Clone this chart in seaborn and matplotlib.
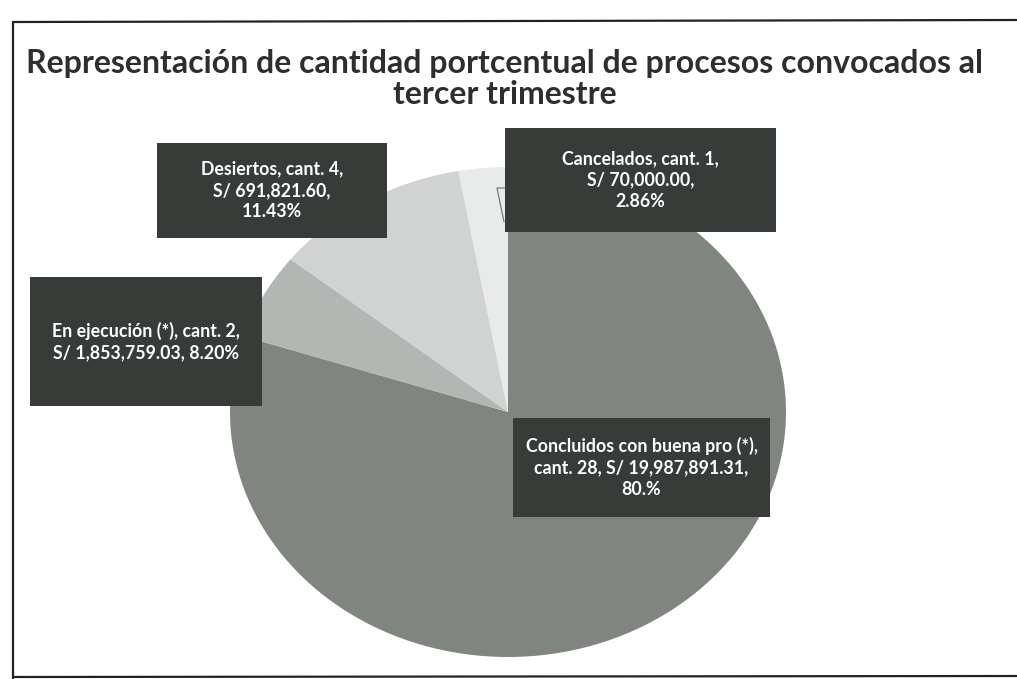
import matplotlib
matplotlib.use("Agg")
import matplotlib.pyplot as plt
import seaborn as sns
from matplotlib.patches import Rectangle
from matplotlib.lines import Line2D

sns.set_theme(style="white")
plt.rcParams['font.family'] = ['Lato', 'DejaVu Sans']

# ---- data ----
categories = ["Concluidos con buena pro (*)", "En ejecución (*)", "Desiertos", "Cancelados"]
counts = [28, 2, 4, 1]
amounts = ["19,987,891.31", "1,853,759.03", "691,821.60", "70,000.00"]
pct_labels = ["80.%", "8.20%", "11.43%", "2.86%"]
title = "Representación de cantidad portcentual de procesos convocados al\ntercer trimestre"

colors = ["#80857f", "#b3b7b4", "#d0d3d1", "#e9ebea"]
box_color = "#373c39"

W, H = 1017, 679
fig = plt.figure(figsize=(W / 100, H / 100), dpi=100)
fig.patch.set_facecolor("white")

def fx(px):
    return px / W

def fy(py):
    return 1 - py / H

# pie axes (elliptical pie as in the scan)
cx, cy, rx, ry = 508, 412, 278, 245
ax = fig.add_axes([fx(cx - rx), fy(cy + ry), 2 * rx / W, 2 * ry / H])
ax.pie(counts, colors=colors, startangle=90, counterclock=False,
       wedgeprops=dict(linewidth=0))
ax.set_aspect("auto")
ax.set_xlim(-1, 1)
ax.set_ylim(-1, 1)
ax.axis("off")

# frame
fig.add_artist(Line2D([fx(13), fx(1017)], [fy(22), fy(20)], color="#222", lw=1.6))
fig.add_artist(Line2D([fx(13), fx(13)], [fy(22), fy(679)], color="#222", lw=1.6))
fig.add_artist(Line2D([fx(13), fx(1017)], [fy(677), fy(676)], color="#222", lw=1.6))

# title
fig.text(fx(505), fy(79), title, ha="center", va="center", fontsize=23,
         fontweight="bold", color="#2b302d", linespacing=1.05)

# leader line for Cancelados
fig.add_artist(Line2D([fx(505), fx(497), fx(504)], [fy(188), fy(188), fy(222)],
                      color="#777", lw=0.9))

# label boxes (x0, y0, x1, y1 in pixels)
boxes = [(513, 418, 770, 517), (30, 277, 262, 406), (157, 143, 387, 238), (505, 128, 776, 232)]
texts = [
    f"{categories[0]},\ncant. {counts[0]}, S/ {amounts[0]},\n{pct_labels[0]}",
    f"{categories[1]}, cant. {counts[1]},\nS/ {amounts[1]}, {pct_labels[1]}",
    f"{categories[2]}, cant. {counts[2]},\nS/ {amounts[2]},\n{pct_labels[2]}",
    f"{categories[3]}, cant. {counts[3]},\nS/ {amounts[3]},\n{pct_labels[3]}",
]
for (x0, y0, x1, y1), t in zip(boxes, texts):
    fig.add_artist(Rectangle((fx(x0), fy(y1)), (x1 - x0) / W, (y1 - y0) / H,
                             transform=fig.transFigure, facecolor=box_color,
                             edgecolor="none"))
    fig.text(fx((x0 + x1) / 2), fy((y0 + y1) / 2), t, ha="center", va="center",
             fontsize=12.8, fontweight="bold", color="white", linespacing=1.32)

fig.savefig("out.png", dpi=100, facecolor="white")
